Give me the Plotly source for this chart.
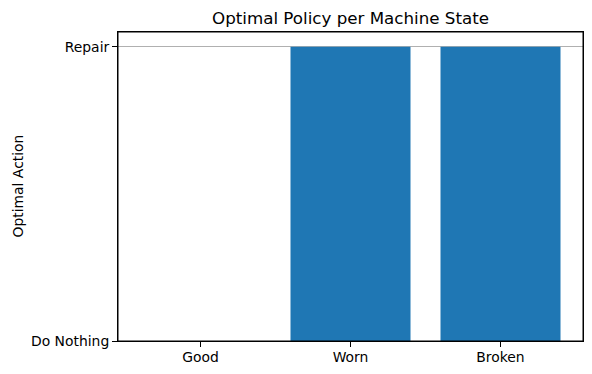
import plotly.graph_objects as go

states = ["Good", "Worn", "Broken"]
actions = [0, 1, 1]
action_labels = ["Do Nothing", "Repair"]

W, H = 592, 374
L, R, T, B = 118, 9, 32, 33
pw = W - L - R
ph = H - T - B

fig = go.Figure()
fig.add_trace(go.Bar(
    x=list(range(len(states))), y=actions, width=0.8,
    marker=dict(color="#1f77b4", line=dict(width=0)),
    hoverinfo="skip",
))

font = "DejaVu Sans"
fs = 13.9
fig.update_layout(
    width=W, height=H,
    margin=dict(l=L, r=R, t=T, b=B, pad=0),
    paper_bgcolor="white", plot_bgcolor="white",
    showlegend=False,
    font=dict(family=font, size=fs, color="black"),
    title=dict(text="Optimal Policy per Machine State", x=(L + pw / 2) / W, xanchor="center",
               y=1 - 18 / H, yanchor="middle", yref="container",
               font=dict(family=font, size=16.7, color="black")),
    xaxis=dict(
        range=[-0.55, 2.55],
        tickmode="array", tickvals=list(range(len(states))), ticktext=states,
        showline=True, linecolor="black", linewidth=1, mirror=True,
        ticks="outside", ticklen=5, tickwidth=1, tickcolor="black",
        ticklabelstandoff=-2,
        showgrid=False, zeroline=False, fixedrange=True,
        tickfont=dict(family=font, size=fs, color="black"),
    ),
    yaxis=dict(
        range=[0, 1.05],
        tickmode="array", tickvals=[0, 1], ticktext=action_labels,
        showline=True, linecolor="black", linewidth=1, mirror=True,
        ticks="outside", ticklen=5, tickwidth=1, tickcolor="black",
        showgrid=True, gridcolor="#b0b0b0", gridwidth=1,
        zeroline=False, fixedrange=True,
        tickfont=dict(family=font, size=fs, color="black"),
    ),
    shapes=[dict(
        type="rect", xref="paper", yref="paper", x0=0, y0=0, x1=1, y1=1,
        line=dict(color="black", width=1), fillcolor="rgba(0,0,0,0)", layer="above",
    )],
    annotations=[dict(
        text="Optimal Action", textangle=-90,
        xref="paper", yref="paper",
        x=(17 - L) / pw, y=0.5, xanchor="center", yanchor="middle",
        showarrow=False, font=dict(family=font, size=fs, color="black"),
    )],
)

fig.write_html(
    "out.html",
    config={"displayModeBar": False},
    post_script="document.body.style.margin='0';document.body.style.overflow='hidden';",
)
